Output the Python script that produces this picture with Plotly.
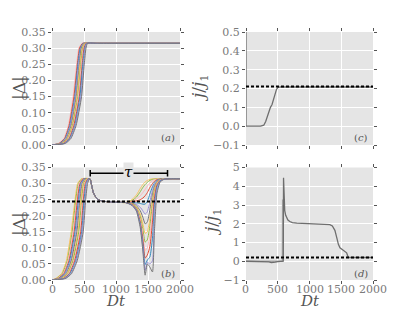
import plotly.graph_objects as go

# ---------------- data ----------------
X_TICKS = [0, 500, 1000, 1500, 2000]
X_TICK_TEXT = ["0", "500", "1000", "1500", "2000"]

# panel (a): |Delta| rise, each curve given as times at which it reaches A_LEVELS
A_LEVELS = [0.0, 0.005, 0.02, 0.06, 0.15, 0.25, 0.30, 0.315, 0.315, 0.315, 0.315]
A_TIMES = [
    [0, 100, 185, 255, 330, 385, 420, 470, 600, 1000, 2000],
    [0, 112, 196, 266, 343, 396, 431, 478, 610, 1000, 2000],
    [0, 121, 204, 277, 355, 404, 441, 486, 620, 1000, 2000],
    [0, 131, 216, 286, 366, 417, 451, 493, 630, 1000, 2000],
    [0, 139, 226, 299, 379, 428, 459, 501, 640, 1000, 2000],
    [0, 151, 234, 310, 389, 437, 471, 507, 650, 1000, 2000],
    [0, 160, 246, 321, 403, 450, 480, 516, 660, 1000, 2000],
    [0, 171, 254, 332, 413, 459, 491, 523, 670, 1000, 2000],
    [0, 180, 266, 341, 427, 472, 500, 531, 680, 1000, 2000],
    [0, 191, 274, 354, 437, 481, 511, 538, 690, 1000, 2000],
    [0, 199, 286, 363, 451, 494, 519, 547, 700, 1000, 2000],
    [0, 210, 295, 376, 462, 504, 531, 555, 710, 1000, 2000],
]

# panel (b): rise phase (times to reach B_RISE_LEVELS), common relaxation, late phase
B_RISE_LEVELS = [0.0, 0.005, 0.02, 0.06, 0.15, 0.25, 0.30, 0.315]
B_RISE_TIMES = [
    [0, 60, 150, 225, 300, 360, 400, 460],
    [0, 73, 161, 239, 316, 372, 413, 470],
    [0, 83, 175, 250, 329, 387, 423, 480],
    [0, 97, 185, 265, 346, 398, 437, 490],
    [0, 107, 199, 276, 359, 413, 447, 500],
    [0, 121, 209, 291, 376, 424, 461, 510],
    [0, 131, 223, 302, 389, 439, 471, 520],
    [0, 145, 233, 317, 406, 450, 485, 530],
    [0, 155, 247, 328, 419, 465, 495, 540],
    [0, 169, 257, 343, 436, 476, 509, 550],
    [0, 179, 271, 354, 449, 491, 519, 560],
    [0, 193, 281, 369, 463, 501, 533, 568],
    [0, 203, 295, 380, 474, 515, 543, 576],
    [0, 216, 306, 394, 488, 526, 556, 584],
]
B_MID_TIMES = [592, 602, 620, 646, 690, 730, 800, 1000]
B_MID_VALUES = [0.315, 0.311, 0.294, 0.272, 0.256, 0.249, 0.245, 0.242]
B_LATE_TIMES = [1150, 1250, 1320, 1380, 1420, 1455, 1490, 1530, 1570, 1600, 1640, 1690, 1760, 1850, 2000]
B_LATE_VALUES = [
    [0.241, 0.250, 0.265, 0.285, 0.297, 0.305, 0.310, 0.313, 0.315, 0.315, 0.315, 0.315, 0.315, 0.315, 0.315],
    [0.241, 0.247, 0.258, 0.275, 0.288, 0.297, 0.304, 0.310, 0.313, 0.314, 0.315, 0.315, 0.315, 0.315, 0.315],
    [0.241, 0.245, 0.252, 0.262, 0.272, 0.282, 0.292, 0.302, 0.309, 0.312, 0.314, 0.315, 0.315, 0.315, 0.315],
    [0.241, 0.243, 0.246, 0.250, 0.255, 0.262, 0.272, 0.288, 0.300, 0.307, 0.312, 0.314, 0.315, 0.315, 0.315],
    [0.241, 0.241, 0.240, 0.238, 0.236, 0.236, 0.245, 0.268, 0.290, 0.302, 0.310, 0.314, 0.315, 0.315, 0.315],
    [0.241, 0.240, 0.235, 0.226, 0.215, 0.205, 0.212, 0.245, 0.278, 0.296, 0.308, 0.313, 0.315, 0.315, 0.315],
    [0.241, 0.239, 0.231, 0.215, 0.195, 0.175, 0.180, 0.220, 0.265, 0.290, 0.306, 0.313, 0.315, 0.315, 0.315],
    [0.241, 0.238, 0.228, 0.205, 0.175, 0.145, 0.150, 0.195, 0.250, 0.283, 0.304, 0.312, 0.315, 0.315, 0.315],
    [0.241, 0.237, 0.225, 0.196, 0.158, 0.118, 0.125, 0.170, 0.235, 0.276, 0.302, 0.312, 0.315, 0.315, 0.315],
    [0.241, 0.236, 0.222, 0.188, 0.140, 0.092, 0.100, 0.140, 0.215, 0.268, 0.300, 0.311, 0.315, 0.315, 0.315],
    [0.241, 0.235, 0.220, 0.180, 0.125, 0.068, 0.078, 0.105, 0.180, 0.255, 0.296, 0.310, 0.314, 0.315, 0.315],
    [0.241, 0.234, 0.218, 0.174, 0.112, 0.048, 0.062, 0.072, 0.130, 0.235, 0.290, 0.309, 0.314, 0.315, 0.315],
    [0.241, 0.233, 0.216, 0.168, 0.100, 0.030, 0.055, 0.050, 0.060, 0.200, 0.282, 0.307, 0.314, 0.315, 0.315],
    [0.241, 0.232, 0.214, 0.162, 0.090, 0.015, 0.050, 0.040, 0.025, 0.150, 0.270, 0.305, 0.314, 0.315, 0.315],
]
B_THRESHOLD = 0.244
TAU_START, TAU_END, TAU_LEVEL = 597, 1805, 0.332

# panel (c): j/j1
C_TIMES = [0, 0, 1, 230, 280, 310, 350, 385, 410, 445, 480, 500, 540, 2000]
C_VALUES = [0.6, 0.0, 0.0, 0.0, 0.005, 0.025, 0.07, 0.10, 0.115, 0.16, 0.195, 0.205, 0.208, 0.208]
C_THRESHOLD = 0.21

# panel (d): j/j1
D_TIMES = [0, 300, 360, 400, 430, 460, 500, 560, 587, 591, 595, 600, 610, 625, 640, 660, 690, 730, 800,
           900, 1100, 1250, 1320, 1360, 1400, 1430, 1455, 1480, 1510, 1540, 1565, 1585, 1605, 1620, 1700, 2000]
D_VALUES = [0, 0, -0.03, -0.07, -0.08, -0.05, -0.02, -0.01, 0.0, 4.45, 3.6, 3.0, 2.7, 2.45, 2.3, 2.2, 2.12,
            2.06, 2.03, 2.01, 2.0, 1.98, 1.95, 1.88, 1.65, 1.25, 0.9, 0.72, 0.64, 0.58, 0.52, 0.45, 0.25,
            0.2, 0.2, 0.2]
D2_TIMES = [0, 572, 576, 579]
D2_VALUES = [0, 0, 3.3, 1.8]
D_THRESHOLD = 0.2

CYCLE = ['#E24A33', '#348ABD', '#988ED5', '#777777', '#FBC15E', '#8EBA42', '#FFB5B8']

# ---------------- figure ----------------
# the page body has an 8px margin, so the figure is 8px smaller than the window
OFF = 8
W, H = 415 - OFF, 312 - OFF


def fx(px):
    return (px - OFF) / W


def fy(py):
    return 1 - (py - OFF) / H


SERIF = 'DejaVu Serif'
fig = go.Figure()

# (a)
for i, times in enumerate(A_TIMES):
    fig.add_trace(go.Scatter(x=times, y=A_LEVELS, mode='lines', xaxis='x', yaxis='y',
                             line=dict(color=CYCLE[(i + 6) % 7], width=1, shape='spline', smoothing=0.5),
                             showlegend=False, hoverinfo='skip'))

# (b)
for i, (rt, lv) in enumerate(zip(B_RISE_TIMES, B_LATE_VALUES)):
    xs = list(rt) + B_MID_TIMES + B_LATE_TIMES
    ys = list(B_RISE_LEVELS) + B_MID_VALUES + list(lv)
    fig.add_trace(go.Scatter(x=xs, y=ys, mode='lines', xaxis='x2', yaxis='y2',
                             line=dict(color=CYCLE[(i + 4) % 7], width=1, shape='spline', smoothing=0.5),
                             showlegend=False, hoverinfo='skip'))
fig.add_trace(go.Scatter(x=[0, 2000], y=[B_THRESHOLD, B_THRESHOLD], mode='lines', xaxis='x2', yaxis='y2',
                         line=dict(color='black', width=2, dash='3px,2px'), showlegend=False, hoverinfo='skip'))

# (c)
fig.add_trace(go.Scatter(x=C_TIMES, y=C_VALUES, mode='lines', xaxis='x3', yaxis='y3',
                         line=dict(color='#6e6e6e', width=1.3), showlegend=False, hoverinfo='skip'))
fig.add_trace(go.Scatter(x=[0, 2000], y=[C_THRESHOLD, C_THRESHOLD], mode='lines', xaxis='x3', yaxis='y3',
                         line=dict(color='black', width=2, dash='3px,2px'), showlegend=False, hoverinfo='skip'))

# (d)
fig.add_trace(go.Scatter(x=D2_TIMES, y=D2_VALUES, mode='lines', xaxis='x4', yaxis='y4',
                         line=dict(color='#a8a8a8', width=1.3), showlegend=False, hoverinfo='skip'))
fig.add_trace(go.Scatter(x=D_TIMES, y=D_VALUES, mode='lines', xaxis='x4', yaxis='y4',
                         line=dict(color='#6e6e6e', width=1.3), showlegend=False, hoverinfo='skip'))
fig.add_trace(go.Scatter(x=[0, 2000], y=[D_THRESHOLD, D_THRESHOLD], mode='lines', xaxis='x4', yaxis='y4',
                         line=dict(color='black', width=2, dash='3px,2px'), showlegend=False, hoverinfo='skip'))

TICKFONT = dict(family=SERIF, size=11, color='#7a7a7a')


def xax(domain, anchor):
    return dict(domain=domain, anchor=anchor, range=[0, 2000], tickvals=X_TICKS,
                showticklabels=False, ticks='outside', ticklen=3, tickwidth=1, tickcolor='#555',
                mirror='ticks', showgrid=True, gridcolor='white', gridwidth=1, zeroline=False,
                showline=False)


def yax(domain, anchor, rng, vals, text):
    return dict(domain=domain, anchor=anchor, range=rng, tickvals=vals, ticktext=text,
                ticks='outside', ticklen=3, tickwidth=1, tickcolor='#555', mirror='ticks',
                showgrid=True, gridcolor='white', gridwidth=1, zeroline=False, showline=False,
                tickfont=TICKFONT)


XL = [fx(52), fx(180)]
XR = [fx(246), fx(373)]
YT = [fy(145), fy(32)]
YB = [fy(280), fy(167.5)]

DELTA_TICKS = [0, 0.05, 0.10, 0.15, 0.20, 0.25, 0.30, 0.35]
DELTA_TEXT = ["0.00", "0.05", "0.10", "0.15", "0.20", "0.25", "0.30", "0.35"]
C_TICKS = [-0.1, 0, 0.1, 0.2, 0.3, 0.4, 0.5]
C_TEXT = ["\u22120.1", "0.0", "0.1", "0.2", "0.3", "0.4", "0.5"]
D_TICKS = [-1, 0, 1, 2, 3, 4, 5]
D_TEXT = ["\u22121", "0", "1", "2", "3", "4", "5"]

fig.update_layout(
    width=W, height=H, margin=dict(l=0, r=0, t=0, b=0, autoexpand=False),
    paper_bgcolor='white', plot_bgcolor='#E5E5E5', showlegend=False,
    font=dict(family=SERIF),
    xaxis=xax(XL, 'y'),
    yaxis=yax(YT, 'x', [0, 0.35], DELTA_TICKS, DELTA_TEXT),
    xaxis2=xax(XL, 'y2'),
    yaxis2=yax(YB, 'x2', [0, 0.35], DELTA_TICKS, DELTA_TEXT),
    xaxis3=xax(XR, 'y3'),
    yaxis3=yax(YT, 'x3', [-0.1, 0.5], C_TICKS, C_TEXT),
    xaxis4=xax(XR, 'y4'),
    yaxis4=yax(YB, 'x4', [-1, 5], D_TICKS, D_TEXT),
)

# tau marker
shapes = [
    dict(type='line', xref='x2', yref='y2', x0=TAU_START, x1=TAU_END, y0=TAU_LEVEL, y1=TAU_LEVEL,
         line=dict(color='black', width=1.5)),
    dict(type='line', xref='x2', yref='y2', x0=TAU_START, x1=TAU_START, y0=TAU_LEVEL - 0.01,
         y1=TAU_LEVEL + 0.01, line=dict(color='black', width=1.5)),
    dict(type='line', xref='x2', yref='y2', x0=TAU_END, x1=TAU_END, y0=TAU_LEVEL - 0.01,
         y1=TAU_LEVEL + 0.01, line=dict(color='black', width=1.5)),
]
fig.update_layout(shapes=shapes)

TITLE_FONT = dict(family=SERIF, size=17, color='#555')
LABEL_FONT = dict(family=SERIF, size=10, color='#555')
ann = [
    dict(text='|\u0394|', x=fx(19), y=fy(88), textangle=-90, font=TITLE_FONT),
    dict(text='|\u0394|', x=fx(19), y=fy(224), textangle=-90, font=TITLE_FONT),
    dict(text='<i>j</i>/<i>j</i><sub>1</sub>', x=fx(200), y=fy(88), textangle=-90, font=TITLE_FONT),
    dict(text='<i>j</i>/<i>j</i><sub>1</sub>', x=fx(212), y=fy(222), textangle=-90, font=TITLE_FONT),
    dict(text='(<i>a</i>)', x=fx(168), y=fy(137), font=LABEL_FONT),
    dict(text='(<i>b</i>)', x=fx(168), y=fy(273), font=LABEL_FONT),
    dict(text='(<i>c</i>)', x=fx(361), y=fy(137), font=LABEL_FONT),
    dict(text='(<i>d</i>)', x=fx(361), y=fy(273), font=LABEL_FONT),
]
annotations = []
for a in ann:
    a.update(xref='paper', yref='paper', showarrow=False, xanchor='center', yanchor='middle')
    annotations.append(a)
# bottom-row x tick labels, positioned through each x axis' own scale
for xref in ('x2', 'x4'):
    for v, t in zip(X_TICKS, X_TICK_TEXT):
        annotations.append(dict(text=t, x=v, xref=xref, y=fy(289), yref='paper', showarrow=False,
                                xanchor='center', yanchor='middle', font=TICKFONT))
for xc in (116, 310):
    annotations.append(dict(text='<i>Dt</i>', x=fx(xc), y=0, xref='paper', yref='paper', showarrow=False,
                            xanchor='center', yanchor='bottom',
                            font=dict(family=SERIF, size=15, color='#555')))
annotations.append(dict(text='<i>\u03c4</i>', x=1190, y=TAU_LEVEL, xref='x2', yref='y2', showarrow=False,
                        bgcolor='#E5E5E5', borderpad=0, yshift=1,
                        font=dict(family=SERIF, size=15, color='black')))
fig.update_layout(annotations=annotations)

fig.write_html("out.html")
